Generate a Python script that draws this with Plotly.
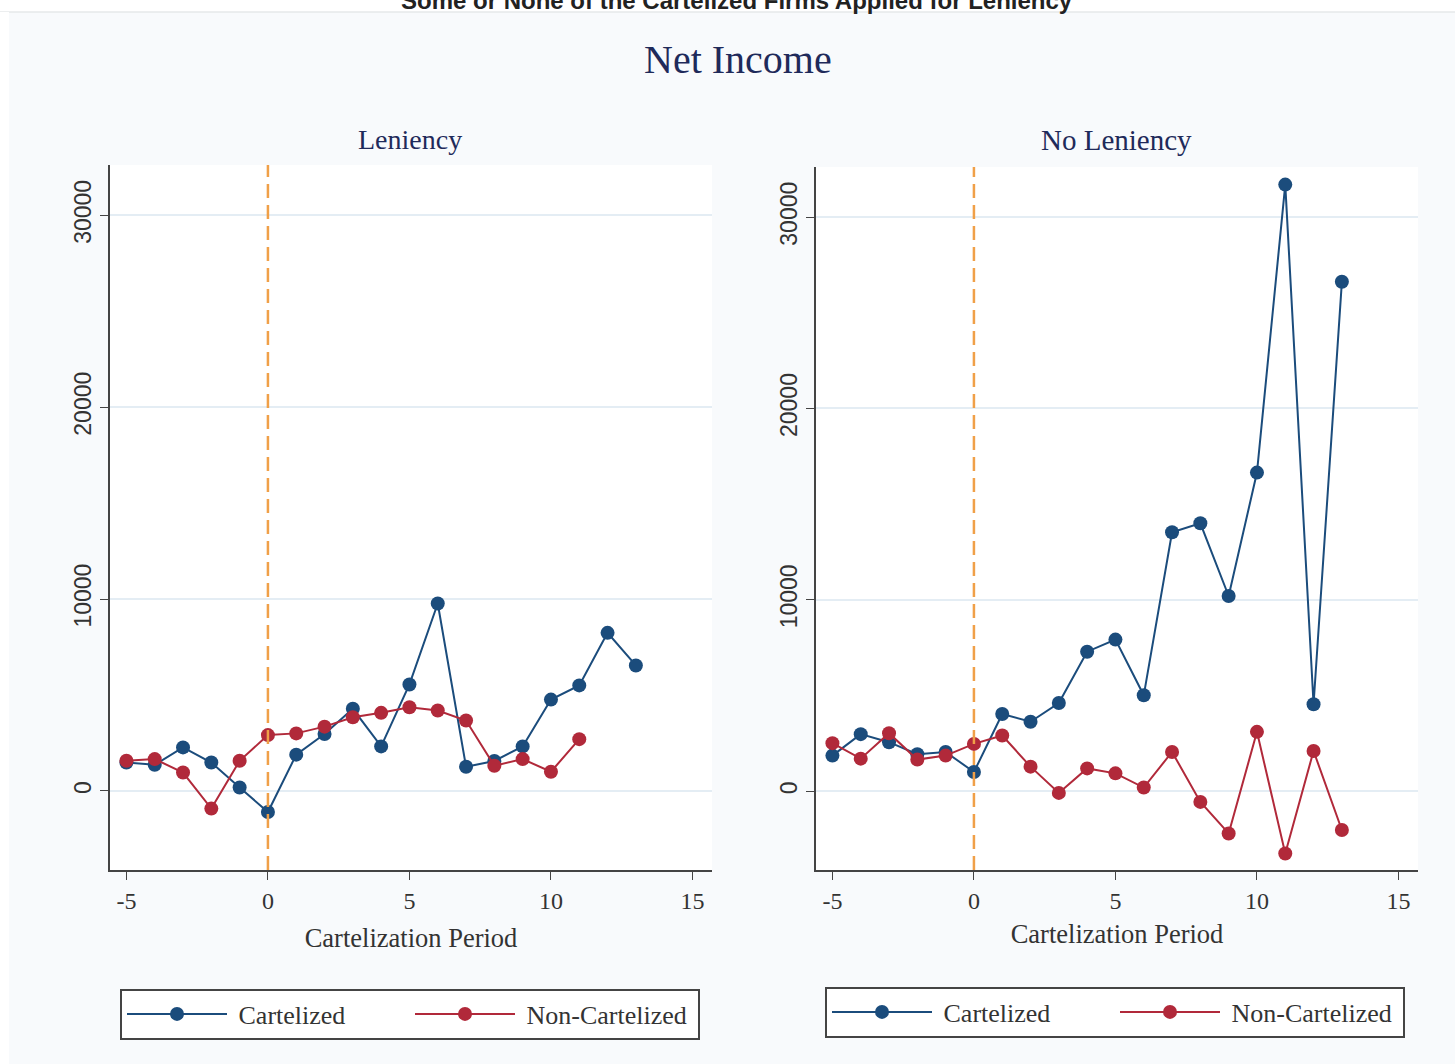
import plotly.graph_objects as go
from plotly.subplots import make_subplots

periods = list(range(-5, 14))
len_cart = [1480, 1360, 2270, 1480, 180, -1100, 1890, 2970, 4280, 2320, 5550, 9770, 1260, 1560, 2320, 4760, 5500, 8240, 6540]
len_periods_non = list(range(-5, 12))
len_non = [1570, 1660, 960, -920, 1570, 2910, 3000, 3350, 3840, 4070, 4360, 4190, 3670, 1310, 1660, 1000, 2700]

nolen_cart = [1860, 2980, 2560, 1930, 2050, 1000, 4030, 3630, 4610, 7290, 7920, 5010, 13530, 14000, 10200, 16650, 31700, 4540, 26620]
nolen_non = [2510, 1700, 3030, 1650, 1860, 2470, 2910, 1280, -90, 1190, 930, 190, 2050, -560, -2210, 3100, -3260, 2100, -2030]

x_ticks = [-5, 0, 5, 10, 15]
x_ticktext = ["-5", "0", "5", "10", "15"]
y_ticks = [0, 10000, 20000, 30000]
y_ticktext = ["0", "10000", "20000", "30000"]

BLUE = "#1b4c7c"
RED = "#b1293a"
ORANGE = "#f0a048"
SERIF = "Liberation Serif, DejaVu Serif, serif"
NAVY = "#1f2a5a"

W, H = 1455, 1064

def px(x):
    return x / W

def py(y):
    return 1 - y / H

fig = make_subplots(rows=1, cols=2)

for col, (xc, yc, xn, yn, leg) in enumerate([
    (periods, len_cart, len_periods_non, len_non, "legend"),
    (periods, nolen_cart, periods, nolen_non, "legend2"),
], start=1):
    fig.add_trace(go.Scatter(x=xc, y=yc, mode="lines+markers", name="\u00a0Cartelized",
                             line=dict(color=BLUE, width=2), marker=dict(color=BLUE, size=14),
                             legend=leg), row=1, col=col)
    fig.add_trace(go.Scatter(x=xn, y=yn, mode="lines+markers", name="\u00a0Non-Cartelized",
                             line=dict(color=RED, width=2), marker=dict(color=RED, size=14),
                             legend=leg), row=1, col=col)
    fig.add_vline(x=0, line=dict(color=ORANGE, width=2.5, dash="14px,7px"), row=1, col=col)

axis_common = dict(showline=True, linecolor="#444444", linewidth=1.5, ticks="outside",
                   ticklen=8, tickcolor="#444444", zeroline=False, mirror=False)

fig.update_xaxes(range=[-5.58, 15.69], tickvals=x_ticks, ticktext=x_ticktext, showgrid=False,
                 tickfont=dict(family=SERIF, size=24, color="#333333"),
                 title=dict(text="Cartelization Period", font=dict(family=SERIF, size=26.5, color="#333333"), standoff=16),
                 **axis_common)
fig.update_yaxes(range=[-4120, 32620], tickvals=y_ticks, ticktext=y_ticktext, tickangle=-90, showgrid=True,
                 gridcolor="#e4edf4", gridwidth=2,
                 tickfont=dict(family="Liberation Sans Narrow, Liberation Sans, sans-serif", size=23, color="#333333"),
                 **axis_common)

fig.update_layout(
    xaxis=dict(domain=[px(110), px(712)]),
    xaxis2=dict(domain=[px(816), px(1418)]),
    yaxis=dict(domain=[py(870), py(165)]),
    yaxis2=dict(domain=[py(870), py(167)]),
)
fig.update_layout(xaxis2=dict(title=dict(standoff=12)))

legend_common = dict(orientation="h", xanchor="center", yanchor="middle",
                     bordercolor="#444444", borderwidth=2, bgcolor="#ffffff",
                     font=dict(family=SERIF, size=26, color="#333333"),
                     entrywidth=173, itemwidth=100, itemclick=False)
fig.update_layout(
    legend=dict(x=px(410), y=py(1014), **legend_common),
    legend2=dict(x=px(1115), y=py(1012), **legend_common),
)

ann_common = dict(xref="paper", yref="paper", xanchor="center", showarrow=False)
fig.add_annotation(text="<b>Some or None of the Cartelized Firms Applied for Leniency</b>",
                   x=px(737), y=py(16), yanchor="bottom",
                   font=dict(family="Liberation Sans Narrow, Liberation Sans, sans-serif", size=24, color="#222222"),
                   **ann_common)
fig.add_annotation(text="Net Income", x=px(738), y=py(60), yanchor="middle",
                   font=dict(family=SERIF, size=40, color=NAVY), **ann_common)
fig.add_annotation(text="Leniency", x=px(410), y=py(140), yanchor="middle",
                   font=dict(family=SERIF, size=28, color=NAVY), **ann_common)
fig.add_annotation(text="No Leniency", x=px(1116), y=py(140), yanchor="middle",
                   font=dict(family=SERIF, size=29, color=NAVY), **ann_common)

fig.add_shape(type="rect", xref="paper", yref="paper", x0=0, x1=1, y0=py(12), y1=1,
              fillcolor="#ffffff", line=dict(width=0), layer="below")
fig.add_shape(type="line", xref="paper", yref="paper", x0=0, x1=1, y0=py(12), y1=py(12),
              line=dict(color="#e6e8ea", width=1.5), layer="below")
fig.add_shape(type="rect", xref="paper", yref="paper", x0=0, x1=px(9), y0=0, y1=py(12),
              fillcolor="#ffffff", line=dict(width=0), layer="below")

fig.update_layout(width=W, height=H, margin=dict(l=0, r=0, t=0, b=0, autoexpand=False),
                  paper_bgcolor="#f8fafc", plot_bgcolor="#ffffff", showlegend=True)

fig.write_html("out.html", config={"displayModeBar": False},
               post_script="document.body.style.margin='0';document.body.style.overflow='hidden';")
